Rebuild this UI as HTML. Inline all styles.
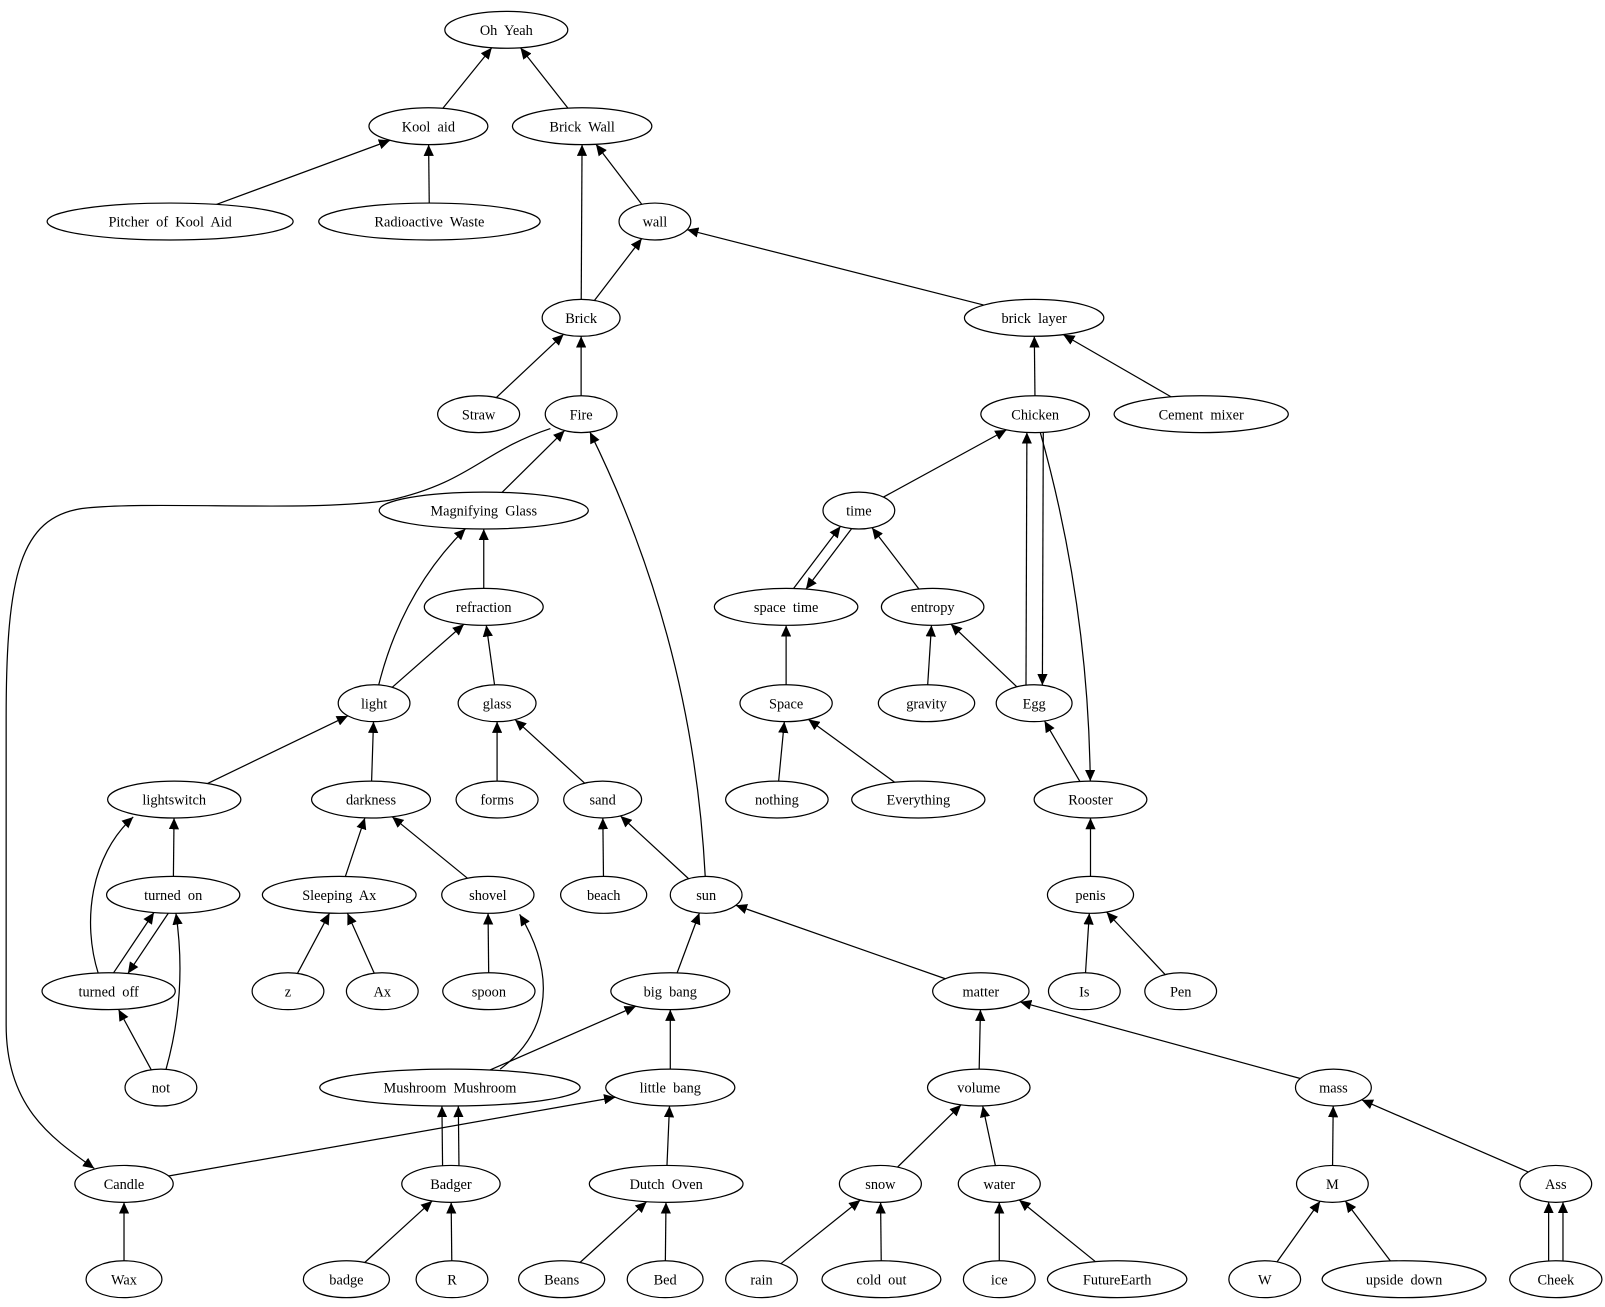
<!DOCTYPE html>
<html><head><meta charset="utf-8"><style>html,body{margin:0;padding:0;background:#fff}svg{display:block}</style></head>
<body>
<svg id="s" width="1605" height="1307" viewBox="0 0 1566 1275" xmlns="http://www.w3.org/2000/svg" font-family="'Liberation Serif', serif" font-size="14">
<defs><marker id="a" markerUnits="userSpaceOnUse" markerWidth="12" markerHeight="10" refX="11" refY="5" orient="auto"><path d="M0,0 L11,5 L0,10 z" fill="#000"/></marker></defs>
<g id="e" fill="none" stroke="#000" stroke-width="1.2"></g>
<g id="n"></g>
</svg>
<script>
var N={
"Oh  Yeah":[494,29,60],"Kool  aid":[418,123,58],"Brick  Wall":[568,123,68],"Pitcher  of  Kool  Aid":[166,216,120],
"Radioactive  Waste":[419,216,108],"wall":[639,216,35],"Brick":[567,310,38],"brick  layer":[1009,310,68],
"Straw":[467,404,40],"Fire":[567,404,35],"Chicken":[1010,404,53],"Cement  mixer":[1172,404,85],
"Magnifying  Glass":[472,498,102],"time":[838,498,35],"refraction":[472,592,58],"space  time":[767,592,70],
"entropy":[910,592,50],"light":[365,686,35],"glass":[485,686,38],"Space":[767,686,45],"gravity":[904,686,47],
"Egg":[1009,686,37],"lightswitch":[170,780,65],"darkness":[362,780,58],"forms":[485,780,40],"sand":[588,780,38],
"nothing":[758,780,50],"Everything":[896,780,65],"Rooster":[1064,780,55],"turned  on":[169,873,65],
"Sleeping  Ax":[331,873,75],"shovel":[476,873,45],"beach":[589,873,42],"sun":[689,873,35],"penis":[1064,873,42],
"turned  off":[106,967,65],"z":[281,967,35],"Ax":[373,967,35],"spoon":[477,967,45],"big  bang":[654,967,58],
"matter":[957,967,47],"Is":[1058,967,35],"Pen":[1152,967,35],"not":[157,1061,35],"Mushroom  Mushroom":[439,1061,127],
"little  bang":[654,1061,63],"volume":[955,1061,50],"mass":[1301,1061,37],"Candle":[121,1155,48],"Badger":[440,1155,48],
"Dutch  Oven":[650,1155,75],"snow":[859,1155,40],"water":[975,1155,40],"M":[1300,1155,35],"Ass":[1518,1155,35],
"Wax":[121,1248,37],"badge":[338,1248,42],"R":[441,1248,35],"Beans":[548,1248,42],"Bed":[649,1248,37],"rain":[743,1248,35],
"cold  out":[860,1248,58],"ice":[975,1248,35],"FutureEarth":[1090,1248,68],"W":[1234,1248,35],"upside  down":[1370,1248,80],"Cheek":[1518,1248,45]};
var RY=18;
var E=[["Kool  aid","Oh  Yeah"],["Brick  Wall","Oh  Yeah"],["Pitcher  of  Kool  Aid","Kool  aid"],["Radioactive  Waste","Kool  aid"],
["wall","Brick  Wall"],["Brick","Brick  Wall"],["Brick","wall"],["brick  layer","wall"],["Straw","Brick"],["Fire","Brick"],
["Chicken","brick  layer"],["Cement  mixer","brick  layer"],["Magnifying  Glass","Fire"],["sun","Fire",50],["time","Chicken"],
["Egg","Chicken",0,-8],["Chicken","Egg",0,-8],["Chicken","Rooster",-25],["refraction","Magnifying  Glass"],["light","Magnifying  Glass",-30],
["space  time","time",0,-5],["time","space  time",0,-5],["entropy","time"],["light","refraction"],["glass","refraction"],["Space","space  time"],
["gravity","entropy"],["Egg","entropy"],["lightswitch","light"],["darkness","light"],["forms","glass"],["sand","glass"],["nothing","Space"],
["Everything","Space"],["Rooster","Egg"],["turned  on","lightswitch"],["Sleeping  Ax","darkness"],["shovel","darkness"],
["beach","sand"],["sun","sand"],["penis","Rooster"],["turned  off","turned  on",0,-6],["turned  on","turned  off",0,-6],["not","turned  on",20],
["z","Sleeping  Ax"],["Ax","Sleeping  Ax"],["spoon","shovel"],["big  bang","sun"],["matter","sun"],
["Is","penis"],["Pen","penis"],["not","turned  off"],["Mushroom  Mushroom","big  bang"],["little  bang","big  bang"],["volume","matter"],
["mass","matter"],["Candle","little  bang"],["Badger","Mushroom  Mushroom",0,-8],["Badger","Mushroom  Mushroom",0,8],["Dutch  Oven","little  bang"],
["snow","volume"],["water","volume"],["M","mass"],["Ass","mass"],["Wax","Candle"],["badge","Badger"],["R","Badger"],["Beans","Dutch  Oven"],
["Bed","Dutch  Oven"],["rain","snow"],["cold  out","snow"],["ice","water"],["FutureEarth","water"],["W","M"],["upside  down","M"],
["Cheek","Ass",0,-7],["Cheek","Ass",0,7]];
function bd(c,tx,ty,ox,oy){var cx=c[0]+ox,cy=c[1]+oy,dx=tx-cx,dy=ty-cy,rx=c[2],ry=RY;
 var L=Math.hypot(dx,dy);var ux=dx/L,uy=dy/L,t0=0,t1=200;
 for(var i=0;i<40;i++){var m=(t0+t1)/2,px=cx+ux*m-c[0],py=cy+uy*m-c[1];if(px*px/(rx*rx)+py*py/(ry*ry)<1)t0=m;else t1=m;}
 return [cx+ux*t0,cy+uy*t0];}
var eg=document.getElementById('e'),h='';
E.forEach(function(e){var s=N[e[0]],d=N[e[1]],b=e[2]||0,o=e[3]||0;
 var dx=d[0]-s[0],dy=d[1]-s[1],L=Math.hypot(dx,dy),px=-dy/L,py=dx/L;
 var ox=px*o,oy=py*o;
 var mx=(s[0]+d[0])/2+ox+px*b,my=(s[1]+d[1])/2+oy+py*b;
 var p1=bd(s,mx,my,ox,oy),p2=bd(d,mx,my,ox,oy);
 if(b)h+='<path d="M'+p1[0]+','+p1[1]+' Q'+mx+','+my+' '+p2[0]+','+p2[1]+'" marker-end="url(#a)"/>';
 else h+='<path d="M'+p1[0]+','+p1[1]+' L'+p2[0]+','+p2[1]+'" marker-end="url(#a)"/>';});
h+='<path d="M537,418 C470,440 460,470 380,488 C300,500 150,488 80,496 C20,505 6,560 6,700 L6,1000 C6,1080 50,1110 92,1140" marker-end="url(#a)"/>';
h+='<path d="M488,1043 C530,1012 548,960 507,892" marker-end="url(#a)"/>';
h+='<path d="M96,950 C80,900 88,835 130,797" marker-end="url(#a)"/>';
eg.innerHTML=h;
var ng=document.getElementById('n'),t='';
for(var k in N){var c=N[k];t+='<ellipse cx="'+c[0]+'" cy="'+c[1]+'" rx="'+c[2]+'" ry="'+RY+'" fill="#fff" stroke="#000" stroke-width="1.2"/><text x="'+c[0]+'" y="'+(c[1]+5)+'" text-anchor="middle" xml:space="preserve">'+k+'</text>';}
ng.innerHTML=t;
</script>
</body></html>
